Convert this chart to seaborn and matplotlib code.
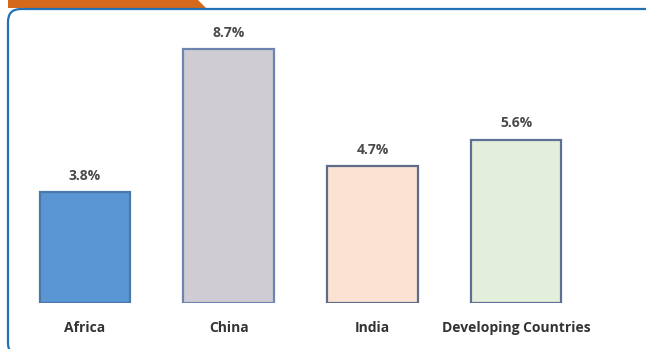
import matplotlib
matplotlib.use("Agg")
import matplotlib.pyplot as plt
from matplotlib.patches import FancyBboxPatch, Polygon
import seaborn as sns
import pandas as pd

# Average growth rates by region
regions = ["Africa", "China", "India", "Developing Countries"]
growth = [3.8, 8.7, 4.7, 5.6]
value_labels = ["3.8%", "8.7%", "4.7%", "5.6%"]

fills = ["#5A96D3", "#CFCCD3", "#FBE2D2", "#E3EFDA"]
edges = ["#4A78A8", "#6E84B0", "#5F6C88", "#5E6F98"]

df = pd.DataFrame({"region": regions, "growth": growth})

sns.set_theme(style="white")
plt.rcParams["font.family"] = ["Open Sans", "DejaVu Sans"]

W, H = 646, 349
fig = plt.figure(figsize=(W / 100, H / 100), dpi=100)
fig.patch.set_facecolor("white")

# pixel helpers (origin at top-left)
def fx(px):
    return px / W

def fy(py):
    return 1 - py / H

step = 143.7
left_px = 85 - 0.5 * step
base_px = 303
top_px = 10
ax = fig.add_axes([fx(left_px), fy(base_px), 4 * step / W, (base_px - top_px) / H])

sns.barplot(data=df, x="region", y="growth", hue="region", palette=fills,
            legend=False, width=0.63, ax=ax, saturation=1)
for patch, ec in zip(ax.patches, edges):
    patch.set_edgecolor(ec)
    patch.set_linewidth(1.6)

px_per_unit = 254 / 8.7
ax.set_ylim(0, (base_px - top_px) / px_per_unit)
ax.set_xlim(-0.5, 3.5)

for i, (v, lab) in enumerate(zip(growth, value_labels)):
    ax.annotate(lab, (i, v), xytext=(0, 6.5), textcoords="offset points",
                ha="center", va="bottom", fontsize=10, fontweight="bold",
                color="#4A4A4A")

ax.set_xlabel("")
ax.set_ylabel("")
ax.set_yticks([])
ax.tick_params(axis="x", length=0, pad=13, labelsize=10, labelcolor="#333333")
for t in ax.get_xticklabels():
    t.set_fontweight("bold")
for s in ax.spines.values():
    s.set_visible(False)
ax.patch.set_alpha(0)

# orange header tab
tab = Polygon([(fx(8), fy(0)), (fx(198), fy(0)), (fx(206), fy(8)), (fx(8), fy(8))],
              closed=True, transform=fig.transFigure, facecolor="#D4691C",
              edgecolor="none", zorder=5)
fig.patches.append(tab)

# rounded blue frame
frame = FancyBboxPatch((fx(8), fy(356)), fx(700 - 8), (356 - 9) / H,
                       boxstyle="round,pad=0,rounding_size=0.02",
                       transform=fig.transFigure, facecolor="none",
                       edgecolor="#2272B8", linewidth=1.6, zorder=6,
                       mutation_aspect=W / H)
fig.patches.append(frame)

fig.savefig("out.png", dpi=100)
